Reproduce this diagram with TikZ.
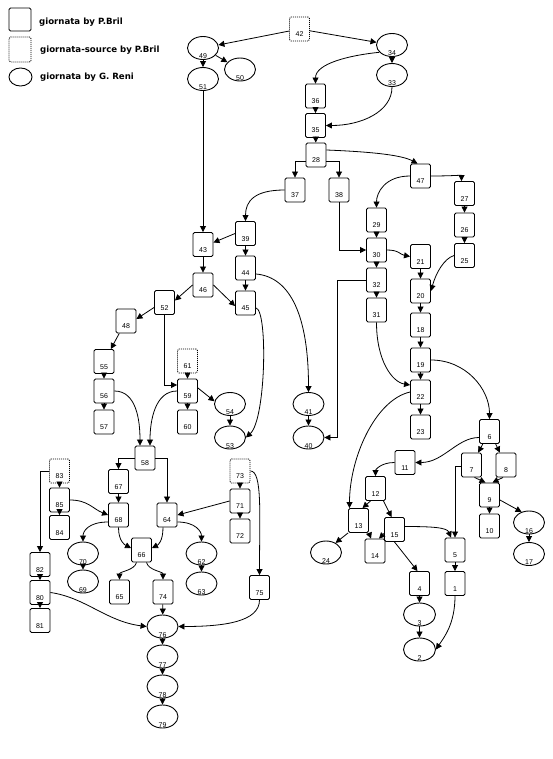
\documentclass[tikz,border=0pt]{standalone}
\usepackage{fontspec}
\setmainfont{Liberation Sans}
\newfontfamily\legfont{DejaVu Sans}
\usetikzlibrary{arrows.meta,shapes.geometric}
\tikzset{
  numf/.style={font=\fontsize{7}{8}\selectfont},
  pb/.style={draw, line width=0.9pt, rounded corners=1.5pt, minimum width=20pt, minimum height=24pt, inner sep=0pt, numf, text height=19.5pt, text depth=4.5pt},
  pbs/.style={pb, dash pattern=on 1pt off 1pt},
  rn/.style={ellipse, draw, line width=0.9pt, minimum width=31pt, minimum height=23pt, inner sep=0pt,
    label={[numf, anchor=base, inner sep=0pt, label distance=-1pt]south:#1}},
  arr/.style={line width=0.8pt, -{Triangle[width=6pt,length=6pt]}},
  lgbox/.style={draw, line width=0.9pt, rounded corners=1.5pt, minimum width=22pt, minimum height=23pt, inner sep=0pt},
  legt/.style={font=\legfont\bfseries\fontsize{8.6}{10}\selectfont, anchor=base west, inner sep=0pt},
}
\begin{document}
\begin{tikzpicture}[x=1pt,y=-1pt]
\fill[white] (0,0) rectangle (553,759);
\useasboundingbox (0,0) rectangle (553,759);
% legend
\node[lgbox] (lg1) at (20,19.5) {};
\node[lgbox, dash pattern=on 1pt off 1pt, minimum height=25pt] (lg2) at (20,49.5) {};
\node[ellipse, draw, line width=0.9pt, minimum width=23pt, minimum height=18pt, inner sep=0pt] (lg3) at (20.5,77) {};
\node[legt] (lt1) at (39,25) {giornata by P.Bril};
\node[legt] (lt2) at (40,53) {giornata-source by P.Bril};
\node[legt] (lt3) at (40,80) {giornata by G. Reni};
% nodes
\node[pbs] (n42) at (299.5,29) {42};
\node[rn=49] (n49) at (203,48) {};
\node[rn=50] (n50) at (240,69.5) {};
\node[rn=51] (n51) at (203,79) {};
\node[rn=34] (n34) at (392,45) {};
\node[rn=33] (n33) at (392,75) {};
\node[pb] (n36) at (315.5,96) {36};
\node[pb] (n35) at (315.5,125.5) {35};
\node[pb] (n28) at (316,155) {28};
\node[pb] (n37) at (295,190) {37};
\node[pb] (n38) at (339,190) {38};
\node[pb] (n47) at (420.5,176) {47};
\node[pb] (n27) at (464.5,193.5) {27};
\node[pb] (n29) at (376.5,220) {29};
\node[pb] (n30) at (376.5,250) {30};
\node[pb] (n32) at (376.5,280) {32};
\node[pb] (n31) at (376.5,310) {31};
\node[pb] (n26) at (464.5,225) {26};
\node[pb] (n25) at (464.5,255.5) {25};
\node[pb] (n21) at (420.5,256.5) {21};
\node[pb] (n20) at (420.5,291) {20};
\node[pb] (n18) at (420.5,325) {18};
\node[pb] (n19) at (420.5,360) {19};
\node[pb] (n39) at (245.5,233.5) {39};
\node[pb] (n43) at (203,244.5) {43};
\node[pb] (n44) at (245.5,268) {44};
\node[pb] (n46) at (203,285) {46};
\node[pb] (n45) at (245.5,303) {45};
\node[pb] (n52) at (164.5,302.5) {52};
\node[pb] (n48) at (126,321) {48};
\node[pb] (n55) at (104,361.5) {55};
\node[pbs] (n61) at (187.5,361) {61};
\node[pb] (n56) at (104,391) {56};
\node[pb] (n57) at (104,422) {57};
\node[pb] (n59) at (187.5,391) {59};
\node[pb] (n60) at (187.5,422) {60};
\node[rn=54] (n54) at (230,404) {};
\node[rn=53] (n53) at (230,437.5) {};
\node[rn=41] (n41) at (308.5,404) {};
\node[rn=40] (n40) at (308.5,437.5) {};
\node[pb] (n22) at (420.5,392) {22};
\node[pb] (n23) at (420.5,427) {23};
\node[pb] (n6) at (489.5,431.5) {6};
\node[pb] (n11) at (405,462.5) {11};
\node[pb] (n7) at (471.5,465) {7};
\node[pb] (n8) at (506,465) {8};
\node[pb] (n9) at (489.5,495) {9};
\node[pb] (n10) at (489.5,526) {10};
\node[rn=16] (n16) at (529,522.5) {};
\node[rn=17] (n17) at (529,554) {};
\node[pb] (n12) at (375.5,488.5) {12};
\node[pb] (n13) at (358.5,520.5) {13};
\node[pb] (n14) at (375,551) {14};
\node[pb] (n15) at (394.5,529.5) {15};
\node[pb] (n5) at (455,550) {5};
\node[rn=24] (n24) at (326,552.5) {};
\node[pb] (n4) at (419.5,583.5) {4};
\node[pb] (n1) at (455,583.5) {1};
\node[rn=3, minimum width=32pt] (n3) at (419.5,614.5) {};
\node[rn=2, minimum width=32pt] (n2) at (419.5,649.5) {};
\node[pb] (n58) at (145,458) {58};
\node[pbs] (n83) at (59.5,471) {83};
\node[pb] (n85) at (59.5,500) {85};
\node[pb] (n84) at (59.5,527.5) {84};
\node[pb] (n67) at (118.5,481.5) {67};
\node[pb] (n68) at (118.5,515) {68};
\node[pb] (n64) at (167,515) {64};
\node[pb] (n66) at (141.5,550) {66};
\node[rn=70] (n70) at (83,553.5) {};
\node[pb] (n82) at (40,564.5) {82};
\node[pb] (n80) at (40,592.5) {80};
\node[pb] (n81) at (40,620.5) {81};
\node[rn=69] (n69) at (83,581.5) {};
\node[pb] (n65) at (119.5,592) {65};
\node[pb] (n74) at (163,592) {74};
\node[rn=76] (n76) at (162.5,626.5) {};
\node[rn=77] (n77) at (162.5,656.5) {};
\node[rn=78] (n78) at (162.5,686.5) {};
\node[rn=79] (n79) at (162.5,716.5) {};
\node[rn=62] (n62) at (201.5,553.5) {};
\node[rn=63] (n63) at (201.5,583.5) {};
\node[pbs] (n73) at (240,471) {73};
\node[pb] (n71) at (240,501) {71};
\node[pb] (n72) at (240,531) {72};
\node[pb] (n75) at (259.5,587.5) {75};
% edges
\draw[arr] (n42) -- (n49);
\draw[arr] (n42) -- (n34);
\draw[arr] (n49) -- (n51);
\draw[arr] (n49) -- (n50);
\draw[arr] (n51) -- (n43);
\draw[arr] (n34.210) .. controls +(-30,3) and +(0,-20) .. (n36.north);
\draw[arr] (n34) -- (n33);
\draw[arr] (n33.south) .. controls +(0,25) and +(35,0) .. (n35.east);
\draw[arr] (n36) -- (n35);
\draw[arr] (n35) -- (n28);
\draw[arr] ([yshift=-6pt]n28.west) -| (n37.north);
\draw[arr] ([yshift=-6pt]n28.east) -| (n38.north);
\draw[arr] ([yshift=5pt]n28.east) .. controls +(50,2) and +(-15,-8) .. ([xshift=-3pt]n47.north);
\draw[arr] (n47.west) .. controls +(-25,0) and +(0,-15) .. (n29.north);
\draw[arr] (n47.east) .. controls +(20,0) and +(0,-6) .. ([xshift=-3pt]n27.north);
\draw[arr] (n37.west) .. controls +(-30,0) and +(0,-20) .. (n39.north);
\draw[arr] (n38.south) |- (n30.west);
\draw[arr] (n29) -- (n30);
\draw[arr] (n30) -- (n32);
\draw[arr] (n32) -- (n31);
\draw[arr] (n30.east) .. controls +(12,0) and +(-10,-2) .. (n21.west);
\draw[arr] (n27) -- (n26);
\draw[arr] (n26) -- (n25);
\draw[arr] (n25.west) .. controls +(-10,3) and +(5,-18) .. (n20.east);
\draw[arr] (n21) -- (n20);
\draw[arr] (n20) -- (n18);
\draw[arr] (n18) -- (n19);
\draw[arr] (n19) -- (n22);
\draw[arr] (n19.east) .. controls +(35,0) and +(0,-30) .. (n6.north);
\draw[arr] (n31.south) .. controls +(0,38) and +(-18,-3) .. ([yshift=7pt]n22.west);
\draw[arr] (n32.west) -- ++(-29,0) |- (n40.east);
\draw[arr] (n22) -- (n23);
\draw[arr] (n22.west) .. controls +(-35,8) and +(0,-50) .. ([xshift=-9pt]n13.north);
\draw[arr] (n39.west) -- ([yshift=2pt]n43.east);
\draw[arr] (n39) -- (n44);
\draw[arr] (n44) -- (n45);
\draw[arr] (n43) -- (n46);
\draw[arr] ([yshift=-6pt]n44.east) .. controls +(35,3) and +(0,-75) .. (n41.north);
\draw[arr] (n46.east) -- ([yshift=-3pt]n45.west);
\draw[arr] ([yshift=-5pt]n45.east) .. controls +(12,2) and +(20,-18) .. (n53.east);
\draw[arr] (n46.west) -- ([yshift=2pt]n52.east);
\draw[arr] ([yshift=-5pt]n52.west) -- ([yshift=2pt]n48.east);
\draw[arr] (n48) -- (n55);
\draw[arr] (n52.south) |- ([yshift=6pt]n59.west);
\draw[arr] (n55) -- (n56);
\draw[arr] (n56) -- (n57);
\draw[arr] (n56.east) .. controls +(22,0) and +(0,-25) .. ([xshift=-5pt]n58.north);
\draw[arr] (n59.west) .. controls +(-22,0) and +(0,-25) .. ([xshift=5pt]n58.north);
\draw[arr] (n61) -- (n59);
\draw[arr] (n59) -- (n60);
\draw[arr] ([yshift=3pt]n59.east) -- (n54.170);
\draw[arr] (n54) -- (n53);
\draw[arr] (n41) -- (n40);
\draw[arr] (n58.west) -| (n67.north);
\draw[arr] (n58.east) -| (n64.north);
\draw[arr] (n67) -- (n68);
\draw[arr] (n83) -- (n85);
\draw[arr] (n85) -- (n84);
\draw[arr] (n83.west) -| (n82.north);
\draw[arr] (n85.east) .. controls +(18,0) and +(-15,-6) .. (n68.west);
\draw[arr] ([yshift=-7pt]n68.west) .. controls +(-20,0) and +(0,-10) .. (n70.north);
\draw[arr] (n68.south) .. controls +(0,14) and +(-6,-3) .. ([yshift=2pt]n66.west);
\draw[arr] ([xshift=-4pt]n64.south) .. controls +(0,14) and +(6,-3) .. ([yshift=2pt]n66.east);
\draw[arr] (n71.west) -- (n64.east);
\draw[arr] ([yshift=-7pt]n64.east) .. controls +(18,0) and +(0,-10) .. (n62.north);
\draw[arr] (n70) -- (n69);
\draw[arr] (n62) -- (n63);
\draw[arr] ([xshift=-5pt]n66.south) .. controls +(-2,8) and +(0,-8) .. (n65.north);
\draw[arr] ([xshift=5pt]n66.south) .. controls +(2,8) and +(0,-8) .. (n74.north);
\draw[arr] (n74) -- (n76);
\draw[arr] (n73) -- (n71);
\draw[arr] (n71) -- (n72);
\draw[arr] (n73.east) .. controls +(12,0) and +(0,-60) .. (n75.north);
\draw[arr] (n75.south) .. controls +(0,22) and +(45,0) .. (n76.east);
\draw[arr] (n82) -- (n80);
\draw[arr] (n80) -- (n81);
\draw[arr] (n80.east) .. controls +(35,5) and +(-40,-5) .. (n76.west);
\draw[arr] (n76) -- (n77);
\draw[arr] (n77) -- (n78);
\draw[arr] (n78) -- (n79);
\draw[arr] ([yshift=-6pt]n6.west) .. controls +(-22,0) and +(28,0) .. (n11.east);
\draw[arr] (n6) -- (n7);
\draw[arr] (n6) -- (n8);
\draw[arr] ([xshift=3pt]n7.south) -- ([xshift=-4pt]n9.north);
\draw[arr] ([xshift=-3pt]n8.south) -- ([xshift=3pt]n9.north);
\draw[arr] (n9) -- (n10);
\draw[arr] ([yshift=-5pt]n9.east) -- (n16.125);
\draw[arr] (n16) -- (n17);
\draw[arr] ([yshift=-1pt]n7.west) -| (n5.north);
\draw[arr] (n11.west) .. controls +(-14,0) and +(0,-6) .. (n12.north);
\draw[arr] ([xshift=-5pt]n12.south) -- ([xshift=4pt]n13.north);
\draw[arr] ([xshift=8pt]n12.south) -- ([xshift=-3pt]n15.north);
\draw[arr] (n13.south east) -- ([xshift=-4pt]n14.north);
\draw[arr] ([yshift=-4pt]n15.west) -- ([xshift=4pt]n14.north);
\draw[arr] ([yshift=3pt]n15.east) .. controls +(28,0) and +(-4,-10) .. ([xshift=-4pt]n5.north);
\draw[arr] (n15.south) -- ([xshift=-2pt]n4.north);
\draw[arr] (n13.south west) -- (n24.45);
\draw[arr] (n5) -- (n1);
\draw[arr] (n4) -- (n3);
\draw[arr] (n3) -- (n2);
\draw[arr] (n1.south) .. controls +(0,28) and +(8,-12) .. (n2.east);
\end{tikzpicture}
\end{document}
